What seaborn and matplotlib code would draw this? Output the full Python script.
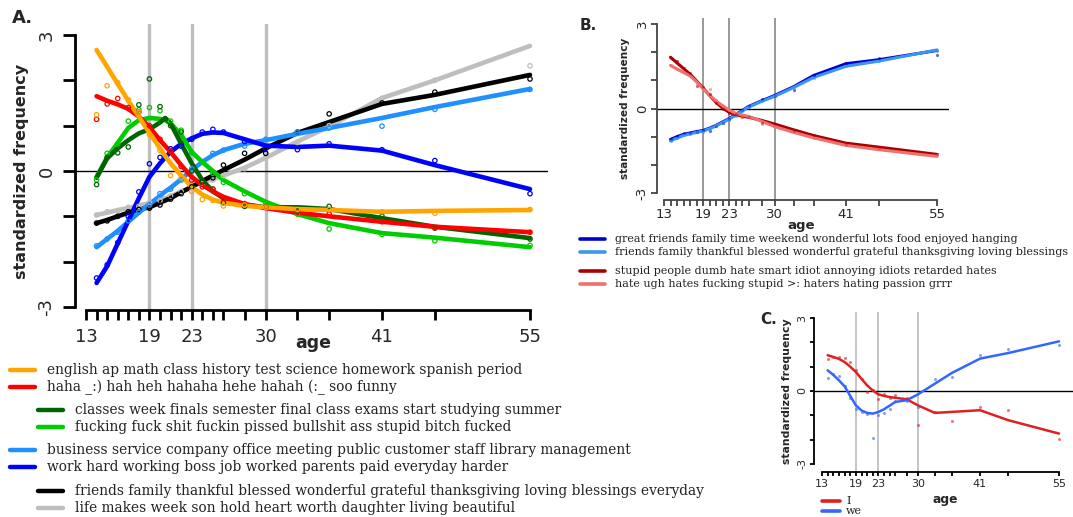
import matplotlib
matplotlib.use('Agg')
import numpy as np
import pandas as pd
import seaborn as sns
import matplotlib.pyplot as plt
from matplotlib.lines import Line2D

# ---------------- data ----------------
# panel A: topic trajectories by age
ages_a = [14, 15, 16, 17, 18, 19, 20, 21, 22, 23, 24, 25, 26, 28, 30, 33, 36, 41, 46, 55]
curve_ages_a = [14, 15, 16, 17, 18, 19, 20, 20.5, 21, 22, 23, 24, 25, 26, 28, 30, 33, 36, 41, 46, 55]

school_curve = [2.67, 2.3, 1.92, 1.55, 1.2, 0.84, 0.5, 0.33, 0.17, -0.1, -0.35, -0.52, -0.63, -0.7, -0.77, -0.8, -0.84, -0.86, -0.9, -0.88, -0.86]
school_pts = [1.24, 1.88, 1.95, 1.57, 1.3, 0.8, 0.45, -0.1, -0.15, -0.45, -0.63, -0.65, -0.77, -0.75, -0.8, -0.85, -0.85, -0.9, -0.93, -0.85]
haha_curve = [1.65, 1.55, 1.47, 1.37, 1.2, 0.97, 0.68, 0.55, 0.42, 0.13, -0.13, -0.31, -0.45, -0.57, -0.73, -0.82, -0.92, -1.0, -1.12, -1.23, -1.35]
haha_pts = [1.14, 1.48, 1.6, 1.4, 1.3, 1.0, 0.7, 0.45, 0.1, -0.2, -0.35, -0.4, -0.6, -0.72, -0.8, -0.9, -0.95, -1.12, -1.25, -1.35]
classes_curve = [-0.15, 0.28, 0.5, 0.68, 0.83, 0.92, 1.07, 1.17, 1.05, 0.6, 0.17, -0.2, -0.45, -0.6, -0.74, -0.8, -0.8, -0.84, -1.04, -1.23, -1.48]
classes_pts = [-0.3, 0.3, 0.4, 0.53, 1.46, 2.03, 1.42, 1.0, 0.86, 0.0, -0.25, -0.4, -0.7, -0.78, -0.8, -0.88, -0.78, -1.0, -1.26, -1.5]
swear_curve = [-0.13, 0.3, 0.62, 0.95, 1.12, 1.17, 1.15, 1.12, 1.05, 0.8, 0.42, 0.2, 0.0, -0.2, -0.45, -0.68, -0.95, -1.15, -1.37, -1.47, -1.68]
swear_pts = [-0.2, 0.39, 0.6, 1.1, 1.35, 1.4, 1.33, 1.1, 0.9, 0.4, 0.2, -0.05, -0.25, -0.5, -0.7, -0.95, -1.28, -1.4, -1.54, -1.64]
business_curve = [-1.68, -1.5, -1.32, -1.12, -0.92, -0.73, -0.55, -0.45, -0.37, -0.18, 0.02, 0.2, 0.35, 0.46, 0.6, 0.68, 0.82, 0.95, 1.17, 1.41, 1.81]
business_pts = [-1.65, -1.5, -1.35, -1.1, -0.9, -0.75, -0.5, -0.4, -0.2, 0.05, 0.2, 0.39, 0.46, 0.55, 0.7, 0.86, 0.95, 0.99, 1.36, 1.8]
work_curve = [-2.47, -2.1, -1.6, -1.1, -0.6, -0.13, 0.17, 0.3, 0.42, 0.6, 0.72, 0.82, 0.85, 0.84, 0.7, 0.56, 0.53, 0.56, 0.45, 0.13, -0.4]
work_pts = [-2.36, -2.07, -1.58, -1.0, -0.46, 0.16, 0.3, 0.49, 0.55, 0.7, 0.86, 0.92, 0.86, 0.65, 0.5, 0.47, 0.6, 0.47, 0.23, -0.5]
friends_curve = [-1.15, -1.08, -1.0, -0.92, -0.85, -0.8, -0.7, -0.65, -0.6, -0.47, -0.35, -0.22, -0.1, 0.02, 0.25, 0.5, 0.84, 1.08, 1.48, 1.68, 2.12]
friends_pts = [-1.15, -1.1, -1.0, -0.9, -0.85, -0.82, -0.75, -0.62, -0.5, -0.35, -0.25, -0.15, 0.13, 0.39, 0.39, 0.86, 1.26, 1.5, 1.74, 2.03]
life_curve = [-0.97, -0.92, -0.86, -0.82, -0.76, -0.71, -0.63, -0.6, -0.56, -0.45, -0.35, -0.25, -0.18, -0.1, 0.07, 0.29, 0.65, 0.98, 1.61, 2.0, 2.76]
life_pts = [-0.97, -0.9, -0.88, -0.8, -0.78, -0.7, -0.65, -0.55, -0.45, -0.35, -0.27, -0.2, -0.1, 0.05, 0.3, 0.63, 1.0, 1.6, 2.0, 2.32]

labels_a = [
    'english ap math class history test science homework spanish period',
    'haha _:) hah heh hahaha hehe hahah (:_ soo funny',
    'classes week finals semester final class exams start studying summer',
    'fucking fuck shit fuckin pissed bullshit ass stupid bitch fucked',
    'business service company office meeting public customer staff library management',
    'work hard working boss job worked parents paid everyday harder',
    'friends family thankful blessed wonderful grateful thanksgiving loving blessings everyday',
    'life makes week son hold heart worth daughter living beautiful',
]
colors_a = ['#FFA500', '#FF0000', '#006400', '#00CD00', '#1E90FF', '#0000FF', '#000000', '#BEBEBE']

# panel B
ages_b = [14, 15, 16, 17, 18, 19, 20, 21, 22, 23, 24, 25, 26, 28, 30, 33, 36, 41, 46, 55]
great_curve = [-1.1, -1.0, -0.92, -0.87, -0.82, -0.78, -0.7, -0.6, -0.48, -0.36, -0.22, -0.08, 0.07, 0.27, 0.46, 0.78, 1.17, 1.59, 1.73, 2.06]
great_pts = [-1.1, -0.98, -0.88, -0.86, -0.82, -0.78, -0.8, -0.62, -0.5, -0.38, -0.2, -0.05, 0.1, 0.35, 0.46, 0.67, 1.2, 1.6, 1.8, 1.9]
thank_curve = [-1.15, -1.05, -0.96, -0.9, -0.85, -0.8, -0.72, -0.62, -0.5, -0.38, -0.24, -0.1, 0.05, 0.25, 0.43, 0.75, 1.1, 1.5, 1.68, 2.08]
thank_pts = [-1.15, -1.05, -0.95, -0.9, -0.85, -0.82, -0.72, -0.6, -0.5, -0.4, -0.25, -0.1, 0.05, 0.28, 0.43, 0.75, 1.1, 1.5, 1.7, 2.05]
stupid_curve = [1.82, 1.62, 1.42, 1.22, 0.98, 0.73, 0.47, 0.22, 0.02, -0.13, -0.22, -0.27, -0.31, -0.42, -0.55, -0.76, -0.96, -1.23, -1.37, -1.63]
stupid_pts = [1.8, 1.7, 1.45, 1.25, 0.8, 0.75, 0.5, 0.2, 0.0, -0.15, -0.2, -0.3, -0.3, -0.5, -0.55, -0.8, -0.95, -1.25, -1.4, -1.6]
hate_curve = [1.53, 1.4, 1.28, 1.16, 0.95, 0.7, 0.48, 0.27, 0.1, -0.05, -0.17, -0.23, -0.28, -0.45, -0.64, -0.85, -1.04, -1.31, -1.46, -1.7]
hate_pts = [1.55, 1.42, 1.3, 1.15, 0.85, 0.7, 0.7, 0.3, 0.1, -0.05, -0.15, -0.25, -0.3, -0.55, -0.62, -0.85, -1.05, -1.3, -1.45, -1.65]

labels_b = [
    'great friends family time weekend wonderful lots food enjoyed hanging',
    'friends family thankful blessed wonderful grateful thanksgiving loving blessings',
    'stupid people dumb hate smart idiot annoying idiots retarded hates',
    'hate ugh hates fucking stupid >: haters hating passion grrr',
]
colors_b = ['#0000CD', '#3A96F0', '#AA0000', '#EE7070']

# panel C
ages_c = [14, 15, 16, 17, 18, 19, 20, 21, 22, 23, 24, 25, 26, 28, 30, 33, 36, 41, 46, 55]
i_curve = [1.47, 1.4, 1.32, 1.19, 1.0, 0.78, 0.5, 0.23, 0.02, -0.14, -0.2, -0.25, -0.28, -0.34, -0.59, -0.9, -0.86, -0.79, -1.2, -1.75]
i_pts = [1.33, 1.38, 1.4, 1.37, 1.19, 0.85, 0.48, -0.04, 0.05, -0.32, -0.11, -0.3, -0.18, -0.3, -1.41, -0.85, -1.23, -0.66, -0.77, -1.96]
we_curve = [0.85, 0.66, 0.44, 0.19, -0.2, -0.59, -0.8, -0.9, -0.93, -0.86, -0.75, -0.6, -0.45, -0.38, -0.14, 0.3, 0.74, 1.33, 1.56, 2.04]
we_pts = [0.55, 0.71, 0.6, 0.19, -0.3, -0.73, -0.86, -0.93, -1.92, -0.97, -0.9, -0.73, -0.41, -0.4, -0.66, 0.48, 0.58, 1.47, 1.74, 1.88]
labels_c = ['I', 'we']
colors_c = ['#E02020', '#3366FF']

tick_ages = [13, 14, 15, 16, 17, 18, 19, 20, 21, 22, 23, 24, 25, 26, 28, 30, 33, 36, 41, 46, 55]
labeled_ages = [13, 19, 23, 30, 41, 55]
marked_ages = [19, 23, 30]

# ---------------- figure ----------------
sns.set_theme(style='ticks')
plt.rcParams['font.family'] = ['DejaVu Sans']

W, H = 1073, 517
fig = plt.figure(figsize=(W / 100, H / 100), dpi=100)


def px_axes(x0, y_top, x1, y_bot):
    return fig.add_axes([x0 / W, 1 - y_bot / H, (x1 - x0) / W, (y_bot - y_top) / H])


def style(ax, xlim, ylim, fs, spine_lw, xlen, ylen, xpad, ypad, axcol, vcol, vlw):
    ax.set_xlim(*xlim)
    ax.set_ylim(*ylim)
    for a in marked_ages:
        ax.axvline(a, color=vcol, lw=vlw, zorder=0)
    ax.axhline(0, color='black', lw=1, zorder=1)
    ax.spines['top'].set_visible(False)
    ax.spines['right'].set_visible(False)
    ax.spines['left'].set_bounds(-3, 3)
    ax.spines['bottom'].set_bounds(13, 55)
    for s in ['left', 'bottom']:
        ax.spines[s].set_linewidth(spine_lw)
        ax.spines[s].set_color(axcol)
    ax.set_xticks(tick_ages)
    ax.set_xticklabels([str(a) if a in labeled_ages else '' for a in tick_ages])
    ax.set_yticks([-3, -2, -1, 0, 1, 2, 3])
    ax.set_yticklabels(['-3', '', '', '0', '', '', '3'], rotation=90, va='center')
    ax.tick_params(axis='x', direction='out', length=xlen, width=spine_lw, color=axcol,
                   labelsize=fs, pad=xpad)
    ax.tick_params(axis='y', direction='out', length=ylen, width=spine_lw, color=axcol,
                   labelsize=fs, pad=ypad)
    ax.set_xlabel('')
    ax.set_ylabel('')
    ax.patch.set_alpha(0)


def draw(ax, cx, curve, px_, pts, color, lw, open_pts, ms):
    sns.lineplot(x=cx, y=curve, ax=ax, color=color, lw=lw, legend=False, zorder=3)
    if open_pts:
        sns.scatterplot(x=px_, y=pts, ax=ax, facecolors='none', edgecolor=color,
                        s=ms, linewidth=0.9, legend=False, zorder=4)
    else:
        sns.scatterplot(x=px_, y=pts, ax=ax, color=color, s=ms, linewidth=0,
                        alpha=0.6, legend=False, zorder=4)


# panel A
axA = px_axes(75, 24, 548, 310)
style(axA, (13 - 11 / 10.57, 55 + 18 / 10.57), (-3 - 3 / 45.3, 3 + 11 / 45.3), 13, 2.0,
      7, 9, 6, 5, 'black', '#BEBEBE', 2.4)
curves_a = [life_curve, friends_curve, business_curve, work_curve,
            swear_curve, classes_curve, haha_curve, school_curve]
pts_a = [life_pts, friends_pts, business_pts, work_pts,
         swear_pts, classes_pts, haha_pts, school_pts]
cols_draw_a = [colors_a[7], colors_a[6], colors_a[4], colors_a[5],
               colors_a[3], colors_a[2], colors_a[1], colors_a[0]]
for c, p, col in zip(curves_a, pts_a, cols_draw_a):
    draw(axA, curve_ages_a, c, ages_a, p, col, 3.3, True, 10)

fig.text(12 / W, 1 - 18 / H, 'A.', fontsize=13, fontweight='bold', va='center')
fig.text(22 / W, 1 - 171 / H, 'standardized frequency', fontsize=11.5,
         fontweight='bold', rotation=90, va='center', ha='center')
fig.text(313 / W, 1 - 343 / H, 'age', fontsize=12.5, fontweight='bold',
         va='center', ha='center')

# legend A
rows_a = [370, 387, 410, 427, 450, 467, 491, 508]
indent_a = [False, False, True, True, False, False, True, True]
for lab, col, y, ind in zip(labels_a, colors_a, rows_a, indent_a):
    x0 = 38 if ind else 10
    fig.add_artist(Line2D([x0 / W, (x0 + 25) / W], [1 - y / H, 1 - y / H],
                          color=col, lw=3.2, transform=fig.transFigure))
    fig.text((x0 + 37) / W, 1 - y / H, lab, fontsize=9.9, family='DejaVu Serif',
             va='center', color='#222222')

# panel B
axB = px_axes(657, 18, 949, 200)
style(axB, (13 - 7 / 6.5, 55 + 12 / 6.5), (-3 - 7 / 28.2, 3 + 6 / 28.2), 9.5, 1.3,
      4, 4, 2, 2, '#444444', '#999999', 1.4)
for c, p, col in zip([great_curve, thank_curve, stupid_curve, hate_curve],
                     [great_pts, thank_pts, stupid_pts, hate_pts],
                     [colors_b[0], colors_b[1], colors_b[2], colors_b[3]]):
    draw(axB, ages_b, c, ages_b, p, col, 2.2, False, 5)
fig.text(580 / W, 1 - 25 / H, 'B.', fontsize=11, fontweight='bold', va='center')
fig.text(625 / W, 1 - 108 / H, 'standardized frequency', fontsize=7.6,
         fontweight='bold', rotation=90, va='center', ha='center')
fig.text(801 / W, 1 - 225 / H, 'age', fontsize=9.5, fontweight='bold',
         va='center', ha='center')
rows_b = [239, 252, 271, 284]
for lab, col, y in zip(labels_b, colors_b, rows_b):
    fig.add_artist(Line2D([580 / W, 605 / W], [1 - y / H, 1 - y / H],
                          color=col, lw=2.6, transform=fig.transFigure))
    fig.text(615 / W, 1 - y / H, lab, fontsize=8.0, family='DejaVu Serif',
             va='center', color='#222222')

# panel C
axC = px_axes(814, 312, 1073, 472)
style(axC, (13 - 8 / 5.64, 55 + 14 / 5.64), (-3 - 8 / 24.3, 3 + 6 / 24.3), 8, 1.3,
      3, 3, 2, 2, 'black', '#BBBBBB', 1.2)
for c, p, col in zip([i_curve, we_curve], [i_pts, we_pts], colors_c):
    draw(axC, ages_c, c, ages_c, p, col, 1.8, False, 5)
fig.text(760 / W, 1 - 320 / H, 'C.', fontsize=11, fontweight='bold', va='center')
fig.text(787 / W, 1 - 391 / H, 'standardized frequency', fontsize=7.8,
         fontweight='bold', rotation=90, va='center', ha='center')
fig.text(945 / W, 1 - 499 / H, 'age', fontsize=8.8, fontweight='bold',
         va='center', ha='center')
rows_c = [501, 511]
for lab, col, y in zip(labels_c, colors_c, rows_c):
    fig.add_artist(Line2D([822 / W, 840 / W], [1 - y / H, 1 - y / H],
                          color=col, lw=2.6, transform=fig.transFigure))
    fig.text(846 / W, 1 - y / H, lab, fontsize=8.0, family='DejaVu Serif',
             va='center', color='#222222')

fig.savefig('out.png', dpi=100)
